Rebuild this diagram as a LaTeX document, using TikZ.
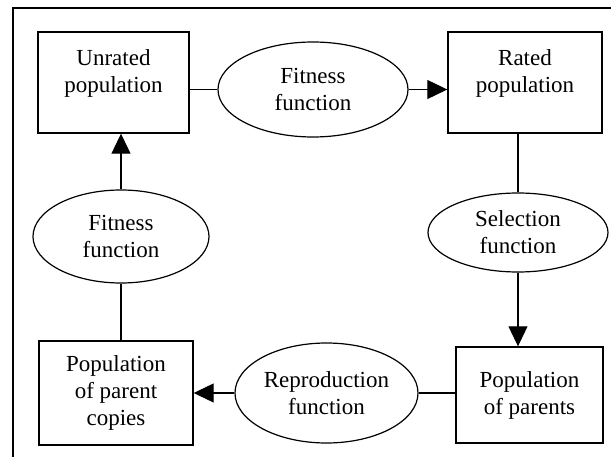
\documentclass[tikz,border=0pt]{standalone}
\usepackage{fontspec}
\setmainfont{Liberation Serif}
\usetikzlibrary{shapes.geometric, arrows.meta}

\begin{document}
\begin{tikzpicture}[
    x=1pt, y=-1pt,
    pop/.style={rectangle, draw, line width=1.4pt, align=center, inner sep=0pt, font=\fontsize{23}{27}\selectfont},
    toptext/.style={align=center, inner sep=0pt, yshift=9pt, font=\fontsize{23}{27}\selectfont},
    raisedpop/.style={pop, label={[toptext]center:#1}},
    func/.style={ellipse, draw, line width=1.2pt, align=center, inner sep=0pt, font=\fontsize{23}{27}\selectfont},
    link/.style={line width=1.1pt},
    flow/.style={link, -{Triangle[length=20pt, width=19pt]}},
]
    \useasboundingbox (0,0) rectangle (611,457);
    \draw[line width=1.1pt] (13,457) -- (13,8) -- (611,8);

    % populations
    \node[raisedpop={Unrated\\population}, minimum width=151pt, minimum height=101pt] (unrated) at (113.5,82.5) {};
    \node[raisedpop={Rated\\population}, minimum width=154pt, minimum height=101pt] (rated) at (525,82.5) {};
    \node[pop, minimum width=147pt, minimum height=96pt] (parents) at (529.5,395) {Population\\of parents};
    \node[pop, minimum width=154pt, minimum height=104pt] (copies) at (116,393) {Population\\of parent\\copies};

    % functions
    \node[func, minimum width=190pt, minimum height=95pt] (fitTop) at (313,89.5) {Fitness\\function};
    \node[func, minimum width=180pt, minimum height=79pt] (select) at (518,232.5) {Selection\\function};
    \node[func, minimum width=183pt, minimum height=100pt] (repro) at (326.5,393) {Reproduction\\function};
    \node[func, minimum width=176pt, minimum height=93pt] (fitLeft) at (121,236.5) {Fitness\\function};

    % connectors
    \draw[link] (unrated.east |- fitTop.west) -- (fitTop.west);
    \draw[flow] (fitTop.east) -- (fitTop.east -| rated.west);
    \draw[link] (select.north |- rated.south) -- (select.north);
    \draw[flow] (select.south) -- (select.south |- parents.north);
    \draw[link] (repro.east) -- (repro.east -| parents.west);
    \draw[flow] (repro.west) -- (repro.west -| copies.east);
    \draw[link] (fitLeft.south) -- (fitLeft.south |- copies.north);
    \draw[flow] (fitLeft.north) -- (fitLeft.north |- unrated.south);
\end{tikzpicture}
\end{document}
